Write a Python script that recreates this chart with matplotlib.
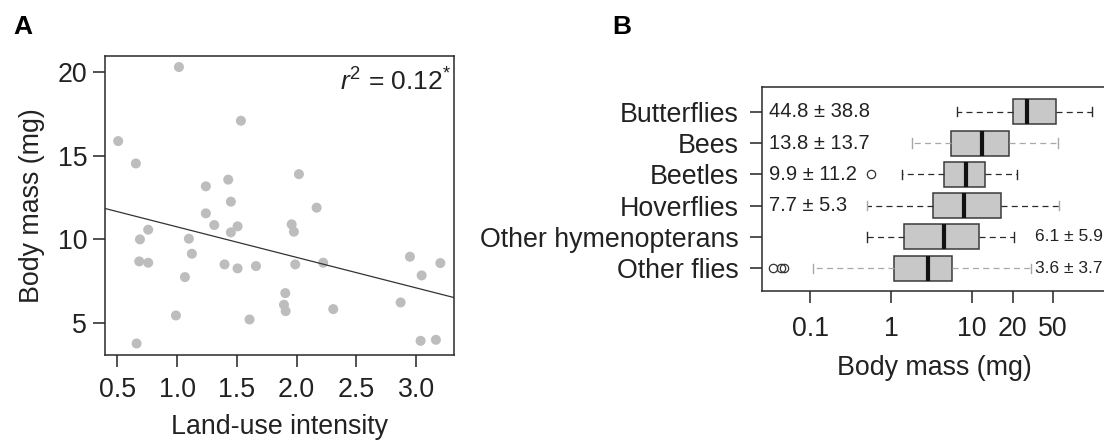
import matplotlib
matplotlib.use("Agg")
import matplotlib.pyplot as plt
import matplotlib.transforms as mtransforms
import numpy as np

# Panel A: body mass vs land-use intensity
LAND_USE = [1.016, 0.508, 0.656, 1.534, 1.241, 1.428, 1.450, 2.019, 1.241, 1.311,
            2.167, 1.958, 1.977, 1.506, 1.450, 0.759, 0.690, 1.099, 1.124, 0.684,
            0.759, 1.397, 1.506, 1.660, 1.988, 2.222, 1.066, 1.905, 1.894, 1.908,
            2.306, 0.991, 1.606, 0.662, 2.947, 3.045, 3.201, 2.869, 3.036, 3.164]
BODY_MASS = [20.32, 15.88, 14.54, 17.10, 13.17, 13.57, 12.25, 13.90, 11.55, 10.85,
             11.89, 10.89, 10.45, 10.77, 10.41, 10.57, 9.99, 10.03, 9.13, 8.67,
             8.59, 8.49, 8.25, 8.39, 8.49, 8.59, 7.73, 6.77, 6.07, 5.69,
             5.81, 5.43, 5.19, 3.75, 8.95, 7.83, 8.57, 6.21, 3.91, 3.97]
FIT_SLOPE = -1.83
FIT_INTERCEPT = 12.57
R2_LABEL = r"$\mathit{r}^2$ = 0.12$^{*}$"
A_XTICKS = [0.5, 1.0, 1.5, 2.0, 2.5, 3.0]
A_YTICKS = [5, 10, 15, 20]

# Panel B: body mass per taxon (box statistics, mg)
TAXA = ["Butterflies", "Bees", "Beetles", "Hoverflies", "Other hymenopterans", "Other flies"]
WHISLO = [6.5, 1.8, 1.36, 0.50, 0.51, 0.11]
Q1 = [31.8, 5.5, 4.5, 3.24, 1.45, 1.07]
MEDIAN = [48.0, 13.4, 8.36, 7.82, 4.51, 2.89]
Q3 = [108.0, 28.1, 14.2, 22.6, 12.3, 5.71]
WHISHI = [300.0, 116.0, 35.6, 118.6, 32.4, 53.0]
FLIERS = [[], [], [0.56], [], [], [0.0352, 0.0438, 0.0482]]
MEANS = [44.8, 13.8, 9.9, 7.7, 6.1, 3.6]
SDS = [38.8, 13.7, 11.2, 5.3, 5.9, 3.7]
NOTE_SIDE = ["left", "left", "left", "left", "right", "right"]
GRAY_WHISKER = [False, True, False, False, False, True]
GRAY_CAP = [False, True, False, True, False, True]
B_TICK_POS = [0.1, 1, 10, 31.6, 100]
B_TICK_LABELS = ["0.1", "1", "10", "20", "50"]

plt.rcParams["font.family"] = ["Liberation Sans", "DejaVu Sans"]
plt.rcParams["mathtext.fontset"] = "custom"
plt.rcParams["mathtext.rm"] = "Liberation Sans"
plt.rcParams["mathtext.it"] = "Liberation Sans:italic"
plt.rcParams["text.color"] = "#222222"
plt.rcParams["axes.labelcolor"] = "#222222"
plt.rcParams["xtick.color"] = "#222222"
plt.rcParams["ytick.color"] = "#222222"

DARK = "#2a2a2a"
LIGHT = "#a8a8a8"
FS = 19.3

fig = plt.figure(figsize=(11.04, 4.41), dpi=100)

# ---- panel A
ax = fig.add_axes([0.0948, 0.195, 0.3164, 0.678])
ax.scatter(LAND_USE, BODY_MASS, s=52, color="#bdbdbd", edgecolors="none", zorder=2)
xs = np.array([0.395, 3.315])
ax.plot(xs, FIT_INTERCEPT + FIT_SLOPE * xs, color="#333333", lw=0.9, zorder=3)
ax.set_xlim(0.395, 3.315)
ax.set_ylim(3.06, 20.98)
ax.set_xticks(A_XTICKS)
ax.set_xticklabels([f"{v:.1f}" for v in A_XTICKS])
ax.set_yticks(A_YTICKS)
ax.tick_params(axis="both", direction="out", length=8.6, width=1.1, labelsize=FS)
ax.tick_params(axis="x", pad=7)
ax.tick_params(axis="y", pad=4)
ax.set_xlabel("Land-use intensity", fontsize=FS, labelpad=8)
ax.set_ylabel("Body mass (mg)", fontsize=FS, labelpad=9)
ax.text(0.992, 0.913, R2_LABEL, transform=ax.transAxes, ha="right", va="center", fontsize=19)
for sp in ax.spines.values():
    sp.set_linewidth(1.1)
    sp.set_color(DARK)

# ---- panel B
bx = fig.add_axes([0.690, 0.340, 0.312, 0.462])
positions = list(range(len(TAXA), 0, -1))
stats = []
for i, name in enumerate(TAXA):
    stats.append({"label": name, "whislo": WHISLO[i], "q1": Q1[i], "med": MEDIAN[i],
                  "q3": Q3[i], "whishi": WHISHI[i], "fliers": FLIERS[i]})
art = bx.bxp(stats, positions=positions, vert=False, widths=0.8, capwidths=0.3,
             patch_artist=True, showfliers=True,
             boxprops=dict(facecolor="#c8c8c8", edgecolor="#3a3a3a", linewidth=1.1),
             medianprops=dict(color="#111111", linewidth=3.0, solid_capstyle="butt"),
             whiskerprops=dict(color=DARK, linewidth=0.9, linestyle=(0, (4.8, 3.4))),
             capprops=dict(color=DARK, linewidth=1.0),
             flierprops=dict(marker="o", markersize=6, markerfacecolor="none",
                             markeredgecolor="#333333", markeredgewidth=0.9))
for i in range(len(TAXA)):
    if GRAY_WHISKER[i]:
        for w in art["whiskers"][2 * i:2 * i + 2]:
            w.set_color(LIGHT)
    if GRAY_CAP[i]:
        for c in art["caps"][2 * i:2 * i + 2]:
            c.set_color(LIGHT)

bx.set_xscale("log")
bx.set_xlim(0.0253, 451)
bx.set_ylim(0.27, 6.78)
bx.set_xticks(B_TICK_POS)
bx.set_xticklabels(B_TICK_LABELS)
bx.xaxis.set_minor_locator(matplotlib.ticker.NullLocator())
bx.set_yticks(positions)
bx.set_yticklabels(TAXA)
bx.tick_params(axis="both", direction="out", length=8.6, width=1.1, labelsize=FS)
bx.tick_params(axis="x", pad=9)
bx.tick_params(axis="y", pad=8)
bx.set_xlabel("Body mass (mg)", fontsize=FS, labelpad=10)
for sp in bx.spines.values():
    sp.set_linewidth(1.1)
    sp.set_color(DARK)

trans = mtransforms.blended_transform_factory(bx.transAxes, bx.transData)
for i, pos in enumerate(positions):
    note = f"{MEANS[i]} \u00b1 {SDS[i]}"
    if NOTE_SIDE[i] == "left":
        bx.text(0.021, pos, note, transform=trans, ha="left", va="center", fontsize=14.5)
    else:
        bx.text(0.794, pos, note, transform=trans, ha="left", va="center", fontsize=12.5)

fig.text(0.012, 0.938, "A", fontsize=19, fontweight="bold", color="black", va="center")
fig.text(0.555, 0.938, "B", fontsize=19, fontweight="bold", color="black", va="center")

fig.savefig("out.png", dpi=100)
